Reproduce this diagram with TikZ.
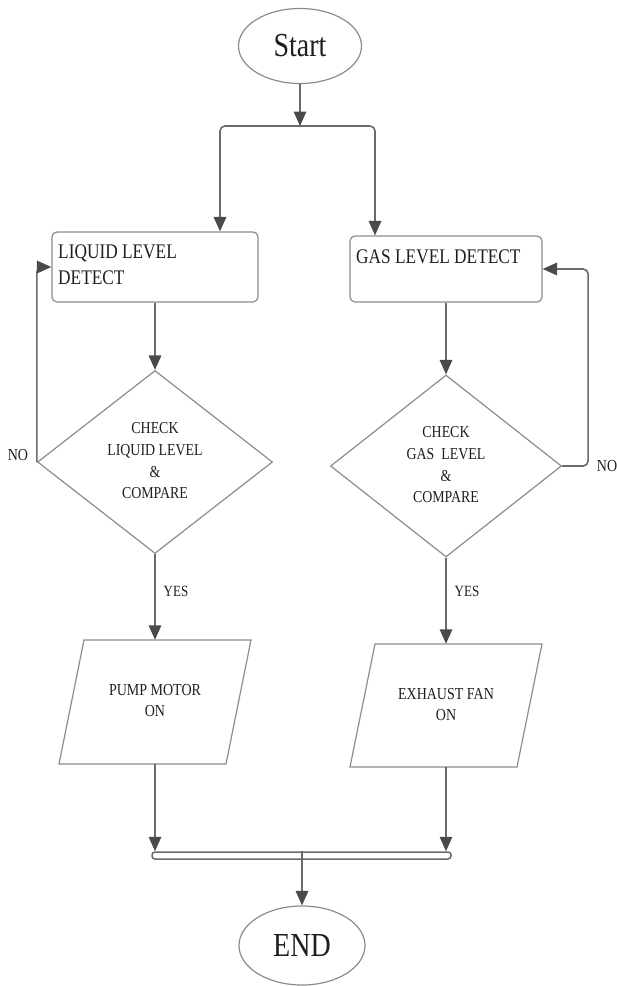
\documentclass[tikz,border=0pt]{standalone}
\usepackage{fontspec}
\setmainfont{Liberation Serif}
\usetikzlibrary{shapes.geometric,arrows.meta}
\definecolor{lin}{HTML}{6A6A6A}
\definecolor{tipc}{HTML}{4A4A4A}
\definecolor{outl}{HTML}{8C8C8C}
\definecolor{txt}{HTML}{1E1E1E}
\newcommand{\vs}[1]{\scalebox{1}[1.2]{#1}}
\begin{document}
\begin{tikzpicture}[x=1pt,y=-1pt,
 arr/.style={draw=lin, line width=1.6pt, -{Triangle[width=12.5pt,length=14.5pt,color=tipc]}, rounded corners=5pt},
 term/.style={ellipse, draw=outl, line width=1.2pt, inner sep=0pt, text=txt, font=\fontsize{28}{30}\selectfont},
 proc/.style={draw=outl, line width=1.2pt, rounded corners=5pt, inner sep=0pt},
 dec/.style={diamond, draw=outl, line width=1.2pt, inner sep=0pt, text=txt, font=\fontsize{13.9}{18}\selectfont},
 io/.style={inner sep=0pt, text=txt, font=\fontsize{14}{17.5}\selectfont},
 iosh/.style={draw=outl, line width=1.2pt},
 lbl/.style={inner sep=0pt, text=txt},
]
\useasboundingbox (0,0) rectangle (617,986);

% terminals
\node[term, minimum width=123pt, minimum height=75pt] (start) at (300,46) {\vs{Start}};
\node[term, minimum width=126pt, minimum height=79pt] (end) at (302,945.5) {\vs{END}};

% process boxes
\node[proc, minimum width=206pt, minimum height=70pt] (b1) at (155,267) {};
\node[proc, minimum width=192pt, minimum height=66pt] (b2) at (446,269) {};
\node[lbl, anchor=west, font=\fontsize{17.3}{21.7}\selectfont] (t1) at (58,266)
  {\vs{\begin{tabular}{@{}l@{}}LIQUID LEVEL\\DETECT\end{tabular}}};
\node[lbl, anchor=west, font=\fontsize{17.3}{21}\selectfont] (t2) at (356,257) {\vs{GAS LEVEL DETECT}};

% decisions
\node[dec, minimum width=235pt, minimum height=183pt] (d1) at (155,462)
  {\vs{\begin{tabular}{@{}c@{}}CHECK\\LIQUID LEVEL\\\&\\COMPARE\end{tabular}}};
\node[dec, minimum width=231pt, minimum height=182pt] (d2) at (446,466)
  {\vs{\begin{tabular}{@{}c@{}}CHECK\\GAS~ LEVEL\\\&\\COMPARE\end{tabular}}};

% outputs (parallelograms)
\node[io, minimum width=150pt, minimum height=124pt] (p1) at (155,702)
  {\vs{\begin{tabular}{@{}c@{}}PUMP MOTOR\\ON\end{tabular}}};
\node[io, minimum width=150pt, minimum height=123pt] (p2) at (446,705.5)
  {\vs{\begin{tabular}{@{}c@{}}EXHAUST FAN\\ON\end{tabular}}};
\draw[iosh] ([shift={(-71,-62)}]p1.center) -- ([shift={(96,-62)}]p1.center)
  -- ([shift={(71,62)}]p1.center) -- ([shift={(-96,62)}]p1.center) -- cycle;
\draw[iosh] ([shift={(-71,-61.5)}]p2.center) -- ([shift={(96,-61.5)}]p2.center)
  -- ([shift={(71,61.5)}]p2.center) -- ([shift={(-96,61.5)}]p2.center) -- cycle;

% join bar
\node[draw=lin, line width=1.5pt, fill=white, rounded corners=3pt, inner sep=0pt,
  minimum width=299pt, minimum height=7pt] (bar) at (301.5,855.5) {};

% labels
\node[lbl, font=\fontsize{14}{16}\selectfont] (n1) at (18,455) {\vs{NO}};
\node[lbl, font=\fontsize{14}{16}\selectfont] (n2) at (607,466) {\vs{NO}};
\node[lbl, font=\fontsize{13}{15}\selectfont] (y1) at (176,591) {\vs{YES}};
\node[lbl, font=\fontsize{13}{15}\selectfont] (y2) at (467,591) {\vs{YES}};

% connectors
\coordinate (sp) at (300,126);
\coordinate (jl) at (220,126);
\coordinate (jr) at (375,126);
\draw[arr] (start.south) -- (sp);
\draw[arr] (sp) -- (jl) -- (jl |- b1.north);
\draw[arr] (sp) -- (jr) -- (jr |- b2.north);
\draw[arr] (b1.south) -- (d1.north);
\draw[arr] (b2.south) -- (d2.north);
\draw[arr] (d1.west) -- (d1.west |- b1.west) -- (b1.west);
\draw[arr] (d2.east) -- ++(26,0) |- (b2.east);
\draw[arr] (d1.south) -- (p1.north);
\draw[arr] (d2.south) -- (p2.north);
\draw[arr] (p1.south) -- (p1.south |- bar.north);
\draw[arr] (p2.south) -- (p2.south |- bar.north);
\draw[arr] (end.north |- bar.north) -- (end.north);
\end{tikzpicture}
\end{document}
